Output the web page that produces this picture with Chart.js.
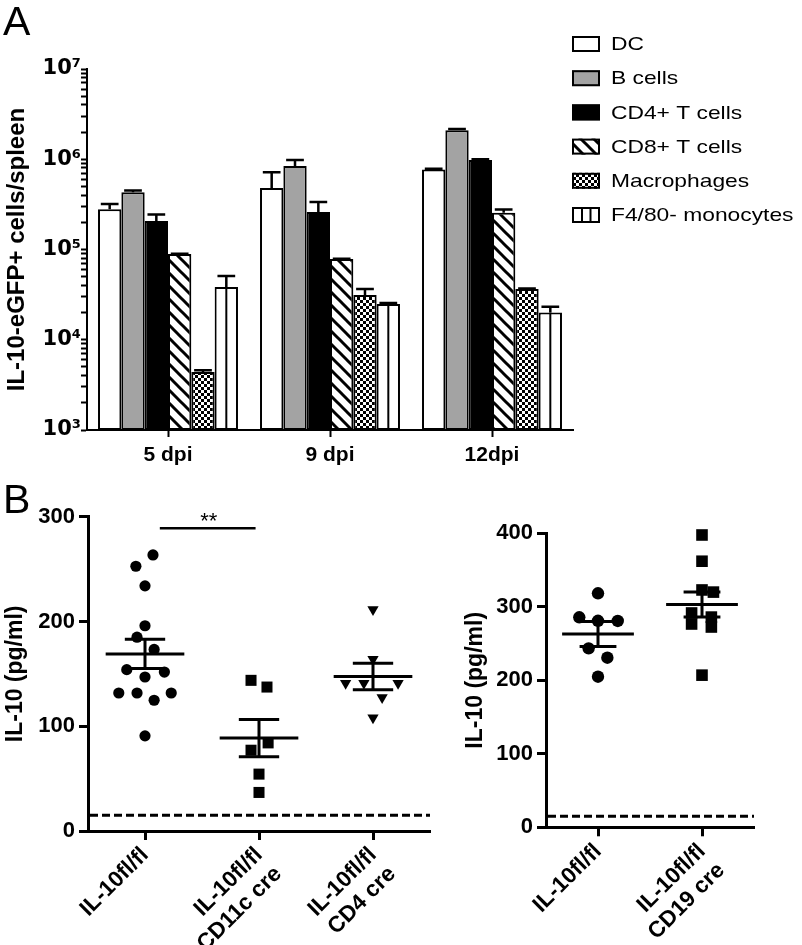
<!DOCTYPE html>
<html>
<head>
<meta charset="utf-8">
<script src="https://cdn.jsdelivr.net/npm/chart.js@4.4.0/dist/chart.umd.min.js"></script>
<style>
  body { margin: 0; background: #fff; }
  #wrap { position: relative; width: 802px; height: 945px; overflow: hidden; }
  canvas { position: absolute; }
  .panel { position: absolute; font-family: 'Liberation Sans', Arial, sans-serif; font-size: 41px; line-height: 41px; color: #000; }
</style>
</head>
<body>
<div id="wrap">
  <canvas id="chartA" width="802" height="480" style="left:0;top:0"></canvas>
  <canvas id="chartB1" width="440" height="475" style="left:0;top:470px"></canvas>
  <canvas id="chartB2" width="362" height="475" style="left:440px;top:470px"></canvas>
  <div class="panel" style="left:3px;top:1px">A</div>
  <div class="panel" style="left:3px;top:479px">B</div>
</div>
<script>
// ---- Panel A: IL-10-eGFP+ cells per spleen (log scale) ----
const days = ['5 dpi', '9 dpi', '12dpi'];
const cellTypes = ['DC', 'B cells', 'CD4+ T cells', 'CD8+ T cells', 'Macrophages', 'F4/80- monocytes'];
const dcCells   = [2.8e5, 4.8e5, 7.7e5];
const bCells    = [4.3e5, 8.4e5, 2.1e6];
const cd4Cells  = [2.07e5, 2.6e5, 9.8e5];
const cd8Cells  = [8.9e4, 7.85e4, 2.56e5];
const macCells  = [4.4e3, 3.13e4, 3.65e4];
const monoCells = [3.85e4, 2.49e4, 2.0e4];
// top of each error bar
const dcErr   = [3.2e5, 7.2e5, 7.85e5];
const bErr    = [4.5e5, 9.8e5, 2.16e6];
const cd4Err  = [2.45e5, 3.36e5, 1.0e6];
const cd8Err  = [9.0e4, 7.9e4, 2.78e5];
const macErr  = [4.6e3, 3.65e4, 3.7e4];
const monoErr = [5.1e4, 2.55e4, 2.32e4];
const yDecadesA = [3, 4, 5, 6, 7];

// ---- Panel B left ----
const groupsLeft = [['IL-10fl/fl'], ['IL-10fl/fl', 'CD11c cre'], ['IL-10fl/fl', 'CD4 cre']];
const ctrlLeft = [263.5, 252.7, 234, 195.9, 185, 173.3, 154, 151.7, 147, 131.7, 131.7, 124.8, 131.7, 90.8];
const ctrlLeftJitter = [0.07, -0.08, 0, 0, -0.07, 0.08, -0.16, 0.17, 0, -0.23, -0.07, 0.08, 0.23, 0];
const cd11cVals = [143.8, 137.4, 77.1, 84.1, 54.3, 36.8];
const cd11cJitter = [-0.07, 0.07, -0.07, 0.08, 0, 0];
const cd4Vals = [211.5, 164, 141, 141, 141, 127.5, 108];
const cd4Jitter = [0, 0, -0.24, -0.08, 0.22, 0.08, 0];
const meansLeft = [169, 88.7, 147.5];
const semLeft = [14, 17.8, 12.7];

// ---- Panel B right ----
const groupsRight = [['IL-10fl/fl'], ['IL-10fl/fl', 'CD19 cre']];
const ctrlRight = [318.4, 285.7, 281, 280.7, 243.5, 230.7, 204.9];
const ctrlRightJitter = [0, -0.18, 0, 0.19, -0.09, 0.09, 0];
const cd19Vals = [397.7, 362, 322.9, 320, 291.6, 276.6, 286, 272.5, 207];
const cd19Jitter = [0, 0, 0, 0.11, -0.1, -0.1, 0.09, 0.09, 0];
const meansRight = [263, 303];
const semRight = [17, 17];
const detectionLimit = 15;

Chart.defaults.font.family = "'Liberation Sans', Arial, sans-serif";
Chart.defaults.color = '#000';

function makePattern(w, h, draw) {
    const c = document.createElement('canvas');
    c.width = w; c.height = h;
    const g = c.getContext('2d');
    g.fillStyle = '#fff';
    g.fillRect(0, 0, w, h);
    draw(g);
    return g.createPattern(c, 'repeat');
}
const stripes = makePattern(13, 13, g => {
    g.strokeStyle = '#000'; g.lineWidth = 3;
    [-13, 0, 13].forEach(o => { g.beginPath(); g.moveTo(o - 3, -3); g.lineTo(o + 16, 16); g.stroke(); });
});
const checks = makePattern(6, 6, g => {
    g.fillStyle = '#000'; g.fillRect(0, 0, 3, 3); g.fillRect(3, 3, 3, 3);
});

const cellSeries = [dcCells, bCells, cd4Cells, cd8Cells, macCells, monoCells];
const cellErrors = [dcErr, bErr, cd4Err, cd8Err, macErr, monoErr];
const barColors = ['#ffffff', '#a3a3a3', '#000000', stripes, checks, '#ffffff'];
const supDigits = { 3: '\u00b3', 4: '\u2074', 5: '\u2075', 6: '\u2076', 7: '\u2077' };

const barExtras = {
    id: 'barExtras',
    afterDatasetsDraw(chart) {
        const ctx = chart.ctx, y = chart.scales.y;
        ctx.save();
        ctx.strokeStyle = '#000';
        // split line inside the F4/80- monocyte bars
        ctx.lineWidth = 2;
        chart.getDatasetMeta(5).data.forEach(bar => {
            ctx.beginPath(); ctx.moveTo(bar.x, bar.y); ctx.lineTo(bar.x, bar.base); ctx.stroke();
        });
        // upper error bars
        ctx.lineWidth = 2.5;
        cellErrors.forEach((errs, i) => {
            chart.getDatasetMeta(i).data.forEach((bar, j) => {
                const top = y.getPixelForValue(errs[j]);
                const half = bar.width * 0.38;
                ctx.beginPath();
                ctx.moveTo(bar.x, bar.y); ctx.lineTo(bar.x, top);
                ctx.moveTo(bar.x - half, top); ctx.lineTo(bar.x + half, top);
                ctx.stroke();
            });
        });
        ctx.restore();
    },
    afterDraw(chart) {
        // legend
        const ctx = chart.ctx;
        ctx.save();
        cellTypes.forEach((name, i) => {
            const cy = 44 + i * 34.2;
            ctx.fillStyle = barColors[i];
            ctx.fillRect(572, cy - 8, 28, 16);
            ctx.lineWidth = 2; ctx.strokeStyle = '#000';
            ctx.strokeRect(573, cy - 7, 26, 14);
            if (i === 5) {
                ctx.beginPath();
                ctx.moveTo(582, cy - 7); ctx.lineTo(582, cy + 7);
                ctx.moveTo(590.5, cy - 7); ctx.lineTo(590.5, cy + 7);
                ctx.stroke();
            }
            ctx.save();
            ctx.translate(611, cy + 1);
            ctx.scale(1.2, 1);
            ctx.font = "19px 'Liberation Sans', Arial, sans-serif";
            ctx.fillStyle = '#000';
            ctx.textBaseline = 'middle';
            ctx.fillText(name, 0, 0);
            ctx.restore();
        });
        ctx.restore();
    }
};

new Chart(document.getElementById('chartA'), {
    type: 'bar',
    data: {
        labels: days,
        datasets: cellTypes.map((name, i) => ({
            label: name,
            data: cellSeries[i],
            backgroundColor: barColors[i],
            borderColor: '#000',
            borderWidth: 2,
            borderSkipped: false,
            barPercentage: 1,
            categoryPercentage: 0.864
        }))
    },
    options: {
        responsive: false,
        animation: false,
        devicePixelRatio: 1,
        layout: { padding: { top: 69, right: 229, left: 0, bottom: 0 } },
        plugins: { legend: { display: false }, tooltip: { enabled: false } },
        scales: {
            x: {
                grid: { offset: false, drawOnChartArea: false, tickLength: 7, tickWidth: 2, tickColor: '#000' },
                border: { color: '#000', width: 2 },
                ticks: { color: '#000', font: { size: 21, weight: 'bold' }, padding: 6 },
                afterFit: s => { s.height = 50; }
            },
            y: {
                type: 'logarithmic',
                min: 1e3,
                max: 1e7,
                afterBuildTicks: s => {
                    const t = [];
                    yDecadesA.forEach(e => {
                        if (e === 7) { t.push({ value: 1e7 }); return; }
                        for (let k = 1; k <= 9; k++) t.push({ value: k * Math.pow(10, e) });
                    });
                    s.ticks = t;
                },
                grid: { drawOnChartArea: false, tickLength: 6, tickWidth: 2, tickColor: '#000' },
                border: { color: '#000', width: 2 },
                ticks: {
                    autoSkip: false,
                    padding: 0,
                    color: '#000',
                    font: { family: "'DejaVu Sans', sans-serif", size: 21, weight: 'bold' },
                    callback: v => {
                        const e = Math.round(Math.log10(v));
                        return Math.abs(v - Math.pow(10, e)) < 1e-6 * v ? '10' + supDigits[e] : '';
                    }
                },
                title: {
                    display: true,
                    text: 'IL-10-eGFP+ cells/spleen',
                    font: { size: 24, weight: 'bold' },
                    padding: { top: 3, bottom: 0 }
                },
                afterFit: s => { s.width = 87; }
            }
        }
    },
    plugins: [barExtras]
});

// ---- dot plots ----
const meanSem = {
    id: 'meanSem',
    beforeDatasetsDraw(chart, args, o) {
        const { ctx, chartArea, scales: { y } } = chart;
        const yl = y.getPixelForValue(o.limit);
        ctx.save();
        ctx.strokeStyle = '#000'; ctx.lineWidth = 3; ctx.setLineDash([8, 4]);
        ctx.beginPath(); ctx.moveTo(chartArea.left + 2, yl); ctx.lineTo(chartArea.right, yl); ctx.stroke();
        ctx.restore();
    },
    afterDatasetsDraw(chart, args, o) {
        const { ctx, scales: { x, y } } = chart;
        ctx.save();
        ctx.strokeStyle = '#000'; ctx.lineWidth = 3;
        o.means.forEach((m, i) => {
            const xm = x.getPixelForValue(i);
            const wl = x.getPixelForValue(i + 0.345) - xm;
            const wc = x.getPixelForValue(i + 0.177) - xm;
            const ym = y.getPixelForValue(m);
            const yt = y.getPixelForValue(m + o.sems[i]);
            const yb = y.getPixelForValue(m - o.sems[i]);
            ctx.beginPath();
            ctx.moveTo(xm - wl, ym); ctx.lineTo(xm + wl, ym);
            ctx.moveTo(xm - wc, yt); ctx.lineTo(xm + wc, yt);
            ctx.moveTo(xm - wc, yb); ctx.lineTo(xm + wc, yb);
            ctx.moveTo(xm, yt); ctx.lineTo(xm, yb);
            ctx.stroke();
        });
        if (o.sig) {
            const ys = y.getPixelForValue(o.sig.y);
            ctx.lineWidth = 2.5;
            ctx.beginPath();
            ctx.moveTo(x.getPixelForValue(o.sig.from), ys); ctx.lineTo(x.getPixelForValue(o.sig.to), ys);
            ctx.stroke();
            ctx.fillStyle = '#000';
            ctx.font = "22px 'Liberation Sans', Arial, sans-serif";
            ctx.textAlign = 'center';
            ctx.textBaseline = 'alphabetic';
            ctx.fillText(o.sig.text, x.getPixelForValue(o.sig.textAt), ys);
        }
        ctx.restore();
    }
};

function dotChart(id, groups, series, yMax, means, sems, box, sig) {
    return new Chart(document.getElementById(id), {
        type: 'scatter',
        data: {
            datasets: series.map(s => ({
                data: s.values.map((v, k) => ({ x: s.group + s.jitter[k], y: v })),
                pointStyle: s.style,
                pointRadius: s.radius,
                rotation: s.rotation || 0,
                backgroundColor: '#000',
                borderColor: '#000',
                borderWidth: 0,
                clip: false
            }))
        },
        options: {
            responsive: false,
            animation: false,
            devicePixelRatio: 1,
            layout: { padding: { top: box.top, right: box.right, left: 0, bottom: 0 } },
            plugins: {
                legend: { display: false },
                tooltip: { enabled: false },
                meanSem: { means: means, sems: sems, limit: detectionLimit, sig: sig }
            },
            scales: {
                x: {
                    type: 'linear',
                    min: -0.5,
                    max: groups.length - 0.5,
                    afterBuildTicks: s => { s.ticks = groups.map((g, i) => ({ value: i })); },
                    grid: { drawOnChartArea: false, tickLength: 9, tickWidth: 3, tickColor: '#000' },
                    border: { color: '#000', width: 3 },
                    ticks: {
                        autoSkip: false, minRotation: 45, maxRotation: 45, padding: 2,
                        color: '#000', font: { size: 22.5, weight: 'bold' },
                        callback: v => groups[v]
                    },
                    afterFit: s => { s.height = box.xHeight; }
                },
                y: {
                    min: 0,
                    max: yMax,
                    grid: { drawOnChartArea: false, tickLength: 9, tickWidth: 3, tickColor: '#000' },
                    border: { color: '#000', width: 3 },
                    ticks: { stepSize: 100, padding: 4, color: '#000', font: { size: 22, weight: 'bold' } },
                    title: {
                        display: true,
                        text: 'IL-10 (pg/ml)',
                        font: { size: 23, weight: 'bold' },
                        padding: { top: box.titlePad, bottom: 0 }
                    },
                    afterFit: s => { s.width = box.yWidth; }
                }
            }
        },
        plugins: [meanSem]
    });
}

dotChart('chartB1', groupsLeft, [
    { group: 0, values: ctrlLeft, jitter: ctrlLeftJitter, style: 'circle', radius: 5.6 },
    { group: 1, values: cd11cVals, jitter: cd11cJitter, style: 'rect', radius: 7.8 },
    { group: 2, values: cd4Vals, jitter: cd4Jitter, style: 'triangle', radius: 6.5, rotation: 180 }
], 300, meansLeft, semLeft,
    { top: 46.7, right: 10, xHeight: 114, yWidth: 88, titlePad: 2 },
    { from: 0.13, to: 0.97, y: 289, textAt: 0.56, text: '**' });

dotChart('chartB2', groupsRight, [
    { group: 0, values: ctrlRight, jitter: ctrlRightJitter, style: 'circle', radius: 6.2 },
    { group: 1, values: cd19Vals, jitter: cd19Jitter, style: 'rect', radius: 8.2 }
], 400, meansRight, semRight,
    { top: 63.3, right: 48, xHeight: 117.7, yWidth: 106, titlePad: 22 },
    null);
</script>
</body>
</html>
